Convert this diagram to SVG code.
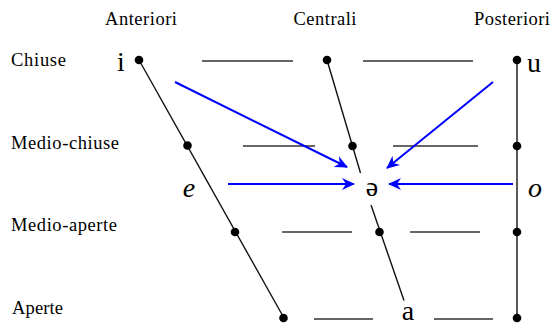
<svg xmlns="http://www.w3.org/2000/svg" width="552" height="324" viewBox="0 0 552 324">
<style>
.lbl{font-family:"Liberation Serif","Times New Roman",serif;font-size:18.5px;fill:#000}
.ipa{font-family:"Liberation Serif","Times New Roman",serif;font-size:28px;fill:#000}
.it{font-style:italic}
.ax{stroke:#111;stroke-width:1.4;fill:none}
.hz{stroke:#333;stroke-width:1.4;fill:none}
.ar{stroke:#0000ff;stroke-width:2;fill:none}
.dot{fill:#000}
</style>
<defs>
<marker id="ah" markerUnits="userSpaceOnUse" markerWidth="16" markerHeight="14" refX="13" refY="7" orient="auto" viewBox="0 0 16 14">
<path d="M1,1 L14,7 L1,13 L5,7 z" fill="#0000ff"/>
</marker>
</defs>
<g id="headers">
<text class="lbl" x="141" y="25" text-anchor="middle" textLength="72" lengthAdjust="spacing">Anteriori</text>
<text class="lbl" x="325" y="25" text-anchor="middle" textLength="63" lengthAdjust="spacing">Centrali</text>
<text class="lbl" x="512" y="25" text-anchor="middle" textLength="76" lengthAdjust="spacing">Posteriori</text>
</g>
<g id="rows">
<text class="lbl" x="11" y="66" textLength="55" lengthAdjust="spacing">Chiuse</text>
<text class="lbl" x="11" y="149" textLength="108" lengthAdjust="spacing">Medio-chiuse</text>
<text class="lbl" x="11" y="231" textLength="106" lengthAdjust="spacing">Medio-aperte</text>
<text class="lbl" x="12" y="314" textLength="51" lengthAdjust="spacing">Aperte</text>
</g>
<g id="grid">
<line class="ax" x1="139" y1="60" x2="284" y2="318"/>
<line class="ax" x1="327" y1="60" x2="360.5" y2="173"/>
<line class="ax" x1="371" y1="205" x2="404" y2="300.5"/>
<line class="ax" x1="517" y1="60" x2="517" y2="318"/>
<line class="hz" x1="202" y1="61" x2="293" y2="61"/>
<line class="hz" x1="363" y1="61" x2="473" y2="61"/>
<line class="hz" x1="243" y1="146" x2="315" y2="146"/>
<line class="hz" x1="393" y1="146" x2="478" y2="146"/>
<line class="hz" x1="282" y1="232" x2="352" y2="232" stroke="#555"/>
<line class="hz" x1="410" y1="232" x2="480" y2="232" stroke="#555"/>
<line class="hz" x1="314" y1="319" x2="373" y2="319"/>
<line class="hz" x1="434" y1="319" x2="493" y2="319"/>
</g>
<g id="dots">
<circle class="dot" cx="139" cy="60" r="4.3"/>
<circle class="dot" cx="187.5" cy="145.5" r="4.3"/>
<circle class="dot" cx="235" cy="232" r="4.3"/>
<circle class="dot" cx="283.5" cy="318" r="4.3"/>
<circle class="dot" cx="327" cy="60" r="4.3"/>
<circle class="dot" cx="352.5" cy="146" r="4.3"/>
<circle class="dot" cx="379.5" cy="232" r="4.3"/>
<circle class="dot" cx="517" cy="60" r="4.3"/>
<circle class="dot" cx="517" cy="146" r="4.3"/>
<circle class="dot" cx="517" cy="232" r="4.3"/>
<circle class="dot" cx="517" cy="318" r="4.3"/>
</g>
<g id="vowels">
<text class="ipa" x="121" y="71" text-anchor="middle">i</text>
<text class="ipa" x="534" y="72" text-anchor="middle">u</text>
<text class="ipa it" x="189" y="197" text-anchor="middle">e</text>
<text class="ipa it" x="535" y="197" text-anchor="middle">o</text>
<text class="ipa" x="372" y="196" text-anchor="middle" font-size="24">ə</text>
<text class="ipa" x="408" y="320" text-anchor="middle" font-size="23">a</text>
</g>
<g id="connectors">
<line class="ar" x1="175" y1="82" x2="347" y2="167" marker-end="url(#ah)"/>
<line class="ar" x1="493" y1="82" x2="387" y2="168" marker-end="url(#ah)"/>
<line class="ar" x1="228" y1="184" x2="354" y2="184" marker-end="url(#ah)"/>
<line class="ar" x1="513" y1="184" x2="389" y2="184" marker-end="url(#ah)"/>
</g>
</svg>
